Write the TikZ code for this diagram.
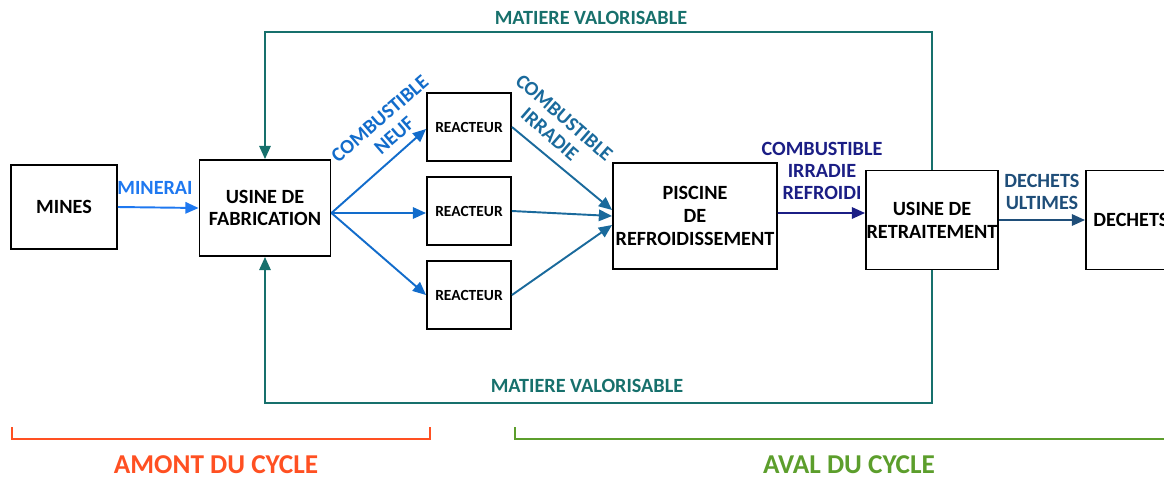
\documentclass[tikz,border=0pt]{standalone}
\usepackage{fontspec}
\setmainfont{Carlito}
\usetikzlibrary{positioning}
\usetikzlibrary{arrows.meta}
\definecolor{mineC}{HTML}{1E78F0}
\definecolor{neufC}{HTML}{126CCB}
\definecolor{irrC}{HTML}{1A6A9C}
\definecolor{froidC}{HTML}{1B1E85}
\definecolor{dechC}{HTML}{1F4E79}
\definecolor{amontC}{HTML}{FF5022}
\definecolor{avalC}{HTML}{5C9E2C}
\definecolor{loopC}{HTML}{17706C}
\tikzset{
  boite/.style={draw, line width=1.1pt, shape=rectangle, align=center, font=\bfseries\fontsize{11.5}{13}\selectfont, inner sep=0pt},
  reac/.style={boite, minimum width=1.68cm, minimum height=1.36cm, font=\bfseries\fontsize{8.8}{10}\selectfont},
  fleche/.style={line width=1.1pt, -{Triangle[length=7.5pt,width=6.5pt]}},
  etiq/.style={font=\bfseries\fontsize{11.5}{12.5}\selectfont, align=center, inner sep=1pt}
}

\begin{document}
\begin{tikzpicture}[x=0.02cm, y=-0.02cm]
\useasboundingbox (0,0) rectangle (1164,478);

% boites
\node[boite, minimum width=2.12cm, minimum height=1.68cm] (mines) at (64,207) {MINES};
\node[boite, minimum width=2.62cm, minimum height=1.92cm] (usine) at (265,208) {USINE DE\\FABRICATION};
\node[reac] (reac1) at (469,127) {REACTEUR};
\node[reac] (reac2) at (469,211) {REACTEUR};
\node[reac] (reac3) at (469,295) {REACTEUR};
\node[boite, minimum width=3.28cm, minimum height=2.12cm] (piscine) at (695,216) {PISCINE\\DE\\REFROIDISSEMENT};
\node[boite, minimum width=2.64cm, minimum height=1.98cm] (retrait) at (932,220) {USINE DE\\RETRAITEMENT};
\node[boite, minimum width=1.8cm, minimum height=1.98cm] (dechets) at (1131,220) {DECHETS};

% fleches
\draw[fleche, mineC] (mines.east) -- (usine.west);
\node[etiq, mineC] (minerai) at (155,188) {MINERAI};

\coordinate (depart) at ([yshift=-0.1cm]usine.east);
\draw[fleche, neufC] (depart) -- ([yshift=-0.04cm]reac1.west);
\draw[fleche, neufC] (depart) -- (reac2.west |- depart);
\draw[fleche, neufC] (depart) -- (reac3.west);
\node[etiq, neufC, rotate=41] (neuf) at (387,127) {COMBUSTIBLE\\NEUF};

\draw[fleche, irrC] (reac1.east) -- ([yshift=0.12cm]piscine.west);
\draw[fleche, irrC] (reac2.east) -- (piscine.west);
\draw[fleche, irrC] (reac3.east) -- ([yshift=-0.18cm]piscine.west);
\node[etiq, irrC, rotate=-41] (irradie) at (557,126) {COMBUSTIBLE\\IRRADIE};

\draw[fleche, froidC] ([yshift=0.06cm]piscine.east) -- ([yshift=0.14cm]retrait.west);
\node[etiq, froidC] (refroidi) at (822,171) {COMBUSTIBLE\\IRRADIE\\REFROIDI};

\draw[fleche, dechC] (retrait.east) -- (dechets.west);
\node[etiq, dechC] (ultimes) at (1042,192) {DECHETS\\ULTIMES};

% boucle matiere valorisable
\coordinate (hautg) at (usine.north |- 0,32);
\coordinate (basg) at (usine.south |- 0,403);
\draw[fleche, loopC] (retrait.north) |- (hautg) -- (usine.north);
\draw[fleche, loopC] (retrait.south) |- (basg) -- (usine.south);
\node[etiq, loopC] (valo1) at (591,18) {MATIERE VALORISABLE};
\node[etiq, loopC] (valo2) at (587,386) {MATIERE VALORISABLE};

% amont / aval
\draw[amontC, line width=1.3pt] (12,427) -- (12,439) -- (430,439) -- (430,427);
\draw[avalC, line width=1.3pt] (515,427) -- (515,439) -- (1170,439);
\node[font=\bfseries\fontsize{15.5}{15.5}\selectfont, amontC] (amont) at (216,465) {AMONT DU CYCLE};
\node[font=\bfseries\fontsize{15.5}{15.5}\selectfont, avalC] (aval) at (849,465) {AVAL DU CYCLE};

\end{tikzpicture}
\end{document}
